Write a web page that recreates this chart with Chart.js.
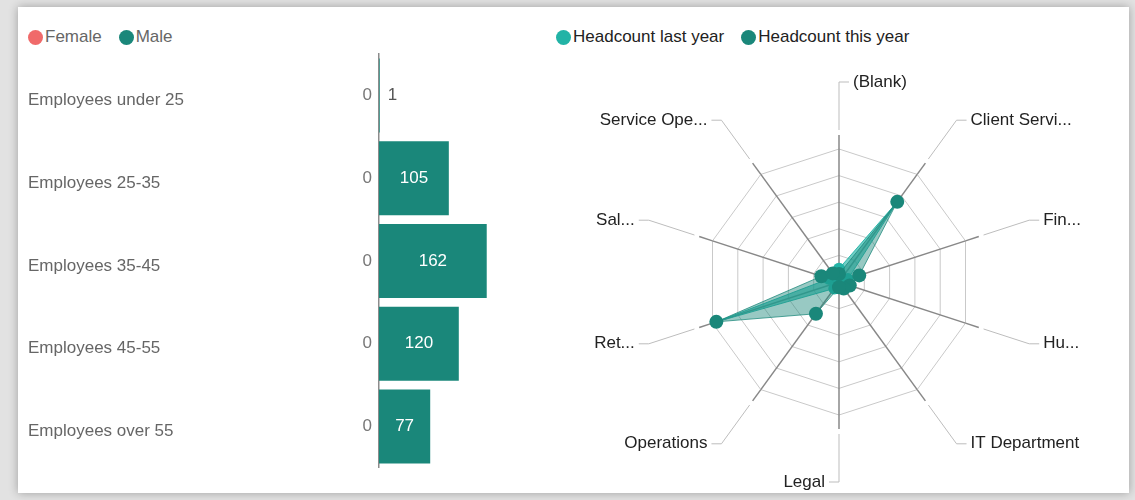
<!DOCTYPE html>
<html>
<head>
<meta charset="utf-8">
<script src="https://cdn.jsdelivr.net/npm/chart.js@4.4.1/dist/chart.umd.min.js"></script>
<style>
body{margin:0;background:#e2e2e2;width:1135px;height:500px;overflow:hidden;font-family:"Liberation Sans",Arial,sans-serif}
.card{position:absolute;left:18px;top:7px;width:1111px;height:486px;background:#fff;box-shadow:0 0 9px rgba(0,0,0,.3)}
.legend{position:absolute;top:28px;font-size:17px;line-height:18px;display:flex}
.legend span{display:flex;align-items:center;margin-right:17px}
.legend i{width:15px;height:15px;border-radius:50%;display:inline-block;margin-right:2px}
#barBox{position:absolute;left:20px;top:44px;width:520px;height:434px}
#radarBox{position:absolute;left:560px;top:55px;width:565px;height:440px}
</style>
</head>
<body>
<div class="card"></div>
<div class="legend" id="legLeft" style="left:28px;color:#666"></div>
<div class="legend" id="legRight" style="left:556px;color:#222"></div>
<div id="barBox"><canvas id="bars"></canvas></div>
<div id="radarBox"><canvas id="radar"></canvas></div>
<script>
// gender by age group
const ageGroups=["Employees under 25","Employees 25-35","Employees 35-45","Employees 45-55","Employees over 55"]
const female=[0,0,0,0,0]
const male=[1,105,162,120,77]

// headcount by department
const departments=["(Blank)","Client Servi...","Fin...","Hu...","IT Department","Legal","Operations","Ret...","Sal...","Service Ope..."]
const lastYear=[20,149,14,8,6,4,12,194,16,8]
const thisYear=[12,149,32,17,12,8,59,194,28,16]

const femaleColor="#f06a6a"
const maleColor="#1a877a"
const lastColor="#22b3a6"
const thisColor="#1a877a"
const FONT='"Liberation Sans", Arial, sans-serif'

const legend=(id,items)=>{
  const el=document.getElementById(id)
  items.forEach(([txt,col])=>{
    const s=document.createElement("span")
    s.innerHTML='<i style="background:'+col+'"></i>'+txt
    el.appendChild(s)
  })
}
legend("legLeft",[["Female",femaleColor],["Male",maleColor]])
legend("legRight",[["Headcount last year",lastColor],["Headcount this year",thisColor]])

const barLabels={
  id:"barLabels",
  afterDatasetsDraw(chart){
    const ctx=chart.ctx
    ctx.save()
    ctx.font="17px "+FONT
    ctx.textBaseline="middle"
    chart.getDatasetMeta(0).data.forEach((bar,i)=>{
      ctx.fillStyle="#777"
      ctx.textAlign="right"
      ctx.fillText(female[i],bar.base-7,bar.y)
    })
    chart.getDatasetMeta(1).data.forEach((bar,i)=>{
      const txt=String(male[i])
      const w=ctx.measureText(txt).width
      if(bar.x-bar.base>w+10){
        ctx.fillStyle="#fff"
        ctx.textAlign="center"
        ctx.fillText(txt,(bar.x+bar.base)/2,bar.y)
      }else{
        ctx.fillStyle="#555"
        ctx.textAlign="left"
        ctx.fillText(txt,bar.x+8,bar.y)
      }
    })
    ctx.restore()
  }
}

new Chart(document.getElementById("bars"),{
  type:"bar",
  data:{
    labels:ageGroups,
    datasets:[
      {label:"Female",data:female,backgroundColor:femaleColor},
      {label:"Male",data:male,backgroundColor:maleColor}
    ]
  },
  options:{
    indexAxis:"y",
    responsive:true,
    maintainAspectRatio:false,
    animation:false,
    layout:{padding:{left:8,right:28,top:0,bottom:0}},
    datasets:{bar:{categoryPercentage:1,barPercentage:0.895}},
    plugins:{legend:{display:false},tooltip:{enabled:false}},
    scales:{
      x:{stacked:true,min:0,max:200,display:false},
      y:{
        stacked:true,
        grid:{display:false},
        border:{color:"#8c8c8c",width:1.5},
        ticks:{color:"#666",font:{size:17,family:FONT},crossAlign:"far",labelOffset:5,padding:0},
        afterFit(s){s.width=351}
      }
    }
  },
  plugins:[barLabels]
})

// spoke extensions + leader lines to the labels
const leaders={
  id:"leaders",
  beforeDatasetsDraw(chart){
    const sc=chart.scales.r
    const ctx=chart.ctx
    const R=sc.drawingArea
    ctx.save()
    ctx.font="17px "+FONT
    ctx.textBaseline="middle"
    departments.forEach((name,i)=>{
      const a=sc.getPointPosition(i,R)
      const b=sc.getPointPosition(i,R+14)
      const c=sc.getPointPosition(i,R+19)
      const d=sc.getPointPosition(i,200)
      ctx.strokeStyle="#888"
      ctx.lineWidth=1.5
      ctx.beginPath();ctx.moveTo(a.x,a.y);ctx.lineTo(b.x,b.y);ctx.stroke()
      const dx=d.x-sc.xCenter
      const right=dx>1||(Math.abs(dx)<=1&&d.y<sc.yCenter)
      const ex=d.x+(right?10:-10)
      ctx.strokeStyle="#bdbdbd"
      ctx.lineWidth=1
      ctx.beginPath();ctx.moveTo(c.x,c.y);ctx.lineTo(d.x,d.y);ctx.lineTo(ex,d.y);ctx.stroke()
      ctx.fillStyle="#222"
      ctx.textAlign=right?"left":"right"
      ctx.fillText(name,ex+(right?4:-4),d.y)
    })
    ctx.restore()
  }
}

new Chart(document.getElementById("radar"),{
  type:"radar",
  data:{
    labels:departments,
    datasets:[
      {label:"Headcount last year",data:lastYear,order:1,
        backgroundColor:"rgba(34,179,166,0.65)",borderColor:"rgba(34,179,166,0.9)",borderWidth:1,
        pointRadius:6,pointBackgroundColor:lastColor,pointBorderWidth:0},
      {label:"Headcount this year",data:thisYear,order:0,
        backgroundColor:"rgba(26,135,122,0.45)",borderColor:"rgba(26,135,122,0.75)",borderWidth:1,
        pointRadius:7,pointBackgroundColor:thisColor,pointBorderWidth:0}
    ]
  },
  options:{
    responsive:true,
    maintainAspectRatio:false,
    animation:false,
    layout:{padding:{left:146,right:153,top:94,bottom:80}},
    plugins:{legend:{display:false},tooltip:{enabled:false}},
    scales:{
      r:{
        min:0,max:200,
        ticks:{display:false,stepSize:40},
        grid:{color:"#c9c9c9",lineWidth:1},
        angleLines:{color:"#888",lineWidth:1.5},
        pointLabels:{display:false}
      }
    }
  },
  plugins:[leaders]
})
</script>
</body>
</html>
